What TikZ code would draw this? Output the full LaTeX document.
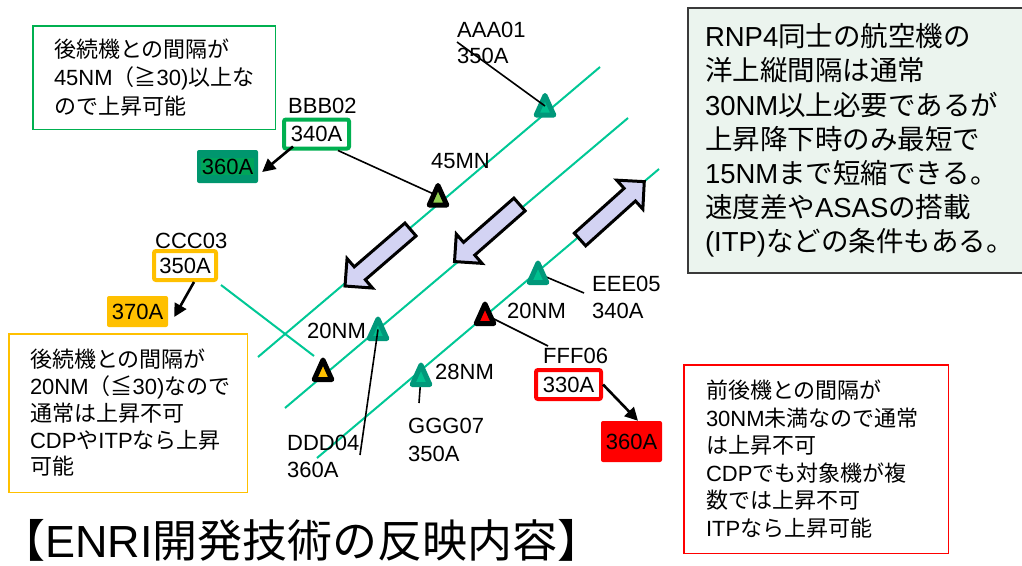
\documentclass[tikz,border=0pt]{standalone}
\usepackage{fontspec}
\setmainfont{Noto Sans CJK JP}
\newfontfamily\lat{Liberation Sans}
\usetikzlibrary{arrows.meta}

\definecolor{trackc}{HTML}{00C896}
\definecolor{tealdk}{HTML}{00987A}
\definecolor{teallt}{HTML}{00C08F}
\definecolor{boxgreen}{HTML}{00B050}
\definecolor{fillgreen}{HTML}{00966E}
\definecolor{hlgreen}{HTML}{00A55A}
\definecolor{amber}{HTML}{FFC000}
\definecolor{lightgreen}{HTML}{92D050}
\definecolor{alertred}{HTML}{FF0000}
\definecolor{lavender}{HTML}{D3D3F3}
\definecolor{notefill}{HTML}{EBF4EE}
\definecolor{noteedge}{HTML}{3A3A3A}

\tikzset{
  track/.style={draw=trackc, line width=2pt},
  leader/.style={draw=black, line width=1.6pt},
  climb/.style={draw=black, line width=2.6pt, -{Triangle[length=13pt,width=13pt]}},
  lbl/.style={font=\lat\fontsize{22}{26}\selectfont, inner sep=0pt, anchor=base west},
  altbox/.style={font=\lat\fontsize{22}{26}\selectfont, inner sep=0pt, line width=4pt, rounded corners=2pt, fill=white},
  newalt/.style={font=\lat\fontsize{22}{26}\selectfont, inner sep=0pt, rounded corners=2pt},
  note/.style={inner sep=0pt, align=left, line width=1.5pt},
  pics/plane/.style 2 args={code={
    \filldraw[line width=5pt, line join=round, draw=#1, fill=#2]
      (0,-10.5) -- (8.8,9) -- (-8.8,9) -- cycle;}},
  pics/flowarrow/.style={code={
    \filldraw[draw=black, fill=lavender, line width=3pt, line join=miter]
      (0,-8.5) -- (67,-8.5) -- (67,-19.5) -- (86.5,0) -- (67,19.5) -- (67,8.5) -- (0,8.5) -- cycle;}},
}

\begin{document}
\begin{tikzpicture}[x=1pt,y=-1pt]
\useasboundingbox (0,0) rectangle (1022,565);
\fill[white] (0,0) rectangle (1022,565);

% oceanic tracks
\draw[track] (258,357) -- (600,67);
\draw[track] (285,408) -- (628,118);
\draw[track] (317,458) -- (659,169);

% aircraft positions
\coordinate (tA) at (545,106);
\coordinate (t45) at (438,196);
\coordinate (tC) at (323,370.5);
\coordinate (tD) at (378,329.5);
\coordinate (tE) at (538,273.5);
\coordinate (tF) at (485,314.5);
\coordinate (tG) at (421,375.5);

% free ends of the leader lines
\coordinate (aaaLead) at (457,42);
\coordinate (dddLead) at (360,455);
\coordinate (eeeLead) at (584,293);
\coordinate (fffLead) at (548,346);
\coordinate (gggLead) at (419,403);
\coordinate (cccEnd) at (314,356);

% labels and altitude boxes
\node[lbl] (aaa) at (457,37) {AAA01};
\node[lbl] (aaaAlt) at (457,63) {350A};
\node[lbl] (bbb) at (288,113) {BBB02};
\node[altbox, draw=boxgreen, minimum width=65pt, minimum height=29pt] (b340) at (316.5,134) {340A};
\node[newalt, fill=fillgreen, minimum width=61pt, minimum height=33pt] (g360) at (227.5,166.5) {\fboxsep=0.6pt\colorbox{hlgreen}{360A}};
\node[lbl] (n45) at (431,168) {45MN};
\node[lbl] (ccc) at (155,248) {CCC03};
\node[altbox, draw=amber, minimum width=62pt, minimum height=29pt] (c350) at (185,265.5) {350A};
\node[newalt, fill=amber, minimum width=61pt, minimum height=31pt] (o370) at (137.5,311.5) {370A};
\node[lbl] (ddd) at (287,450) {DDD04};
\node[lbl] (dddAlt) at (287,477) {360A};
\node[lbl] (eee) at (592,291) {EEE05};
\node[lbl] (eeeAlt) at (592,318) {340A};
\node[lbl] (fff) at (543,363) {FFF06};
\node[altbox, draw=alertred, minimum width=65pt, minimum height=29pt] (r330) at (568.5,384.5) {330A};
\node[newalt, fill=alertred, minimum width=61pt, minimum height=41pt] (r360) at (631.5,441.5) {360A};
\node[lbl] (ggg) at (408,433) {GGG07};
\node[lbl] (gggAlt) at (408,461) {350A};

% leaders hidden under the symbols
\draw[track] ([xshift=3pt,yshift=-3pt]c350.south east) -- (cccEnd);
\draw[leader] ([xshift=-13pt]b340.south east) -- (t45);
\draw[leader] (tE) -- (eeeLead);
\draw[leader] (tF) -- (fffLead);
\draw[leader] (tG) -- (gggLead);

% aircraft symbols
\pic at (tA) {plane={tealdk}{teallt}};
\pic at (t45) {plane={black}{lightgreen}};
\pic at (tC) {plane={black}{amber}};
\pic at (tD) {plane={tealdk}{teallt}};
\pic at (tE) {plane={tealdk}{teallt}};
\pic at (tF) {plane={black}{alertred}};
\pic at (tG) {plane={tealdk}{teallt}};

% leaders drawn over the symbols
\draw[leader] (aaaLead) -- (tA);
\draw[leader] (dddLead) -- (tD);

% spacing labels
\node[lbl] (d20) at (307,338) {20NM};
\node[lbl] (e20) at (507,318) {20NM};
\node[lbl] (g28) at (435,379) {28NM};

% flow direction of each track
\pic[rotate=220.8] at (410.5,229.5) {flowarrow};
\pic[rotate=221.3] at (519.5,204.5) {flowarrow};
\pic[rotate=42] at (580,239.5) {flowarrow};

% requested climbs
\draw[climb] ([xshift=11pt,yshift=4pt]b340.south west) -- ([xshift=4pt,yshift=-5.5pt]g360.east);
\draw[climb] ([xshift=9pt]c350.south) -- ([xshift=6pt,yshift=-5.5pt]o370.east);
\draw[climb] (r330.east) -- ([xshift=6.5pt]r360.north);

% explanatory notes
\node[note, draw=boxgreen, minimum width=242.5pt, minimum height=103.5pt, text width=200pt,
  font=\fontsize{22}{28.5}\selectfont] (noteA) at (154,77.5)
  {後続機との間隔が\\{\lat 45NM}（≧{\lat 30)}以上な\\ので上昇可能};
\node[note, draw=amber, minimum width=238.5pt, minimum height=158.5pt, text width=196pt,
  font=\fontsize{22}{26.75}\selectfont] (noteB) at (128,413)
  {後続機との間隔が\\{\lat 20NM}（≦{\lat 30)}なので\\通常は上昇不可\\{\lat CDP}や{\lat ITP}なら上昇\\可能};
\node[note, draw=alertred, minimum width=264.5pt, minimum height=188.5pt, text width=220pt,
  font=\fontsize{22}{27.6}\selectfont] (noteC) at (816,459)
  {前後機との間隔が\\{\lat 30NM}未満なので通常\\は上昇不可\\{\lat CDP}でも対象機が複\\数では上昇不可\\{\lat ITP}なら上昇可能};
\node[note, draw=noteedge, fill=notefill, line width=2pt, minimum width=335pt, minimum height=265pt, text width=300pt,
  font=\fontsize{27.5}{34.2}\selectfont] (noteR) at (855,140.5)
  {{\lat RNP4}同士の航空機の\\洋上縦間隔は通常\\{\lat 30NM}以上必要であるが\\上昇降下時のみ最短で\\{\lat 15NM}まで短縮できる。\\速度差や{\lat ASAS}の搭載\\{\lat(ITP)}などの条件もある。};

% heading
\node[anchor=west, inner sep=0pt, font=\fontsize{45}{50}\selectfont] (title) at (0,540)
  {【{\lat ENRI}開発技術の反映内容】};
\end{tikzpicture}
\end{document}
